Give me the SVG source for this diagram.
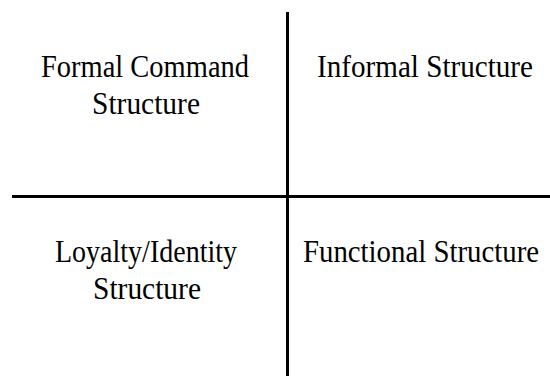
<svg xmlns="http://www.w3.org/2000/svg" width="550" height="376" viewBox="0 0 550 376">
<style>
text{font-family:"Liberation Serif","Times New Roman",serif;font-size:31px;fill:#000;text-anchor:middle}
.ln{stroke:#000;stroke-width:3;fill:none}
</style>
<rect width="550" height="376" fill="#fff"/>
<g id="connectors">
<line class="ln" x1="287.5" y1="12" x2="287.5" y2="376"/>
<line class="ln" x1="12" y1="196.5" x2="550" y2="196.5"/>
</g>
<g id="formal"><text x="145" y="77" textLength="208" lengthAdjust="spacingAndGlyphs">Formal Command</text><text x="146" y="114" textLength="108" lengthAdjust="spacingAndGlyphs">Structure</text></g>
<g id="informal"><text x="425" y="77" textLength="216" lengthAdjust="spacingAndGlyphs">Informal Structure</text></g>
<g id="loyalty"><text x="146" y="262" textLength="182" lengthAdjust="spacingAndGlyphs">Loyalty/Identity</text><text x="147" y="299" textLength="108" lengthAdjust="spacingAndGlyphs">Structure</text></g>
<g id="functional"><text transform="translate(421,262) scale(0.93,1)" x="0" y="0">Functional Structure</text></g>
</svg>
